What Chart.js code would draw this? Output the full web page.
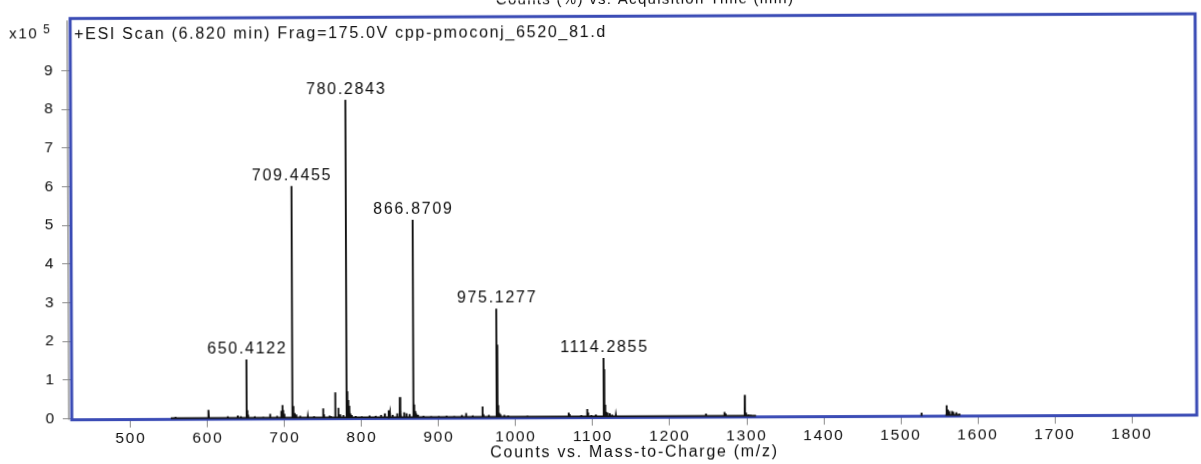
<!DOCTYPE html>
<html>
<head>
<meta charset="utf-8">
<script src="https://cdn.jsdelivr.net/npm/chart.js@4.4.1/dist/chart.umd.min.js"></script>
<style>
  html, body { margin: 0; padding: 0; background: #fff; overflow: hidden; }
  #wrap { width: 1201px; height: 464px; transform: rotate(-0.24deg); transform-origin: 600px 232px; }
  canvas { display: block; }
</style>
</head>
<body>
<div id="wrap"><canvas id="spectrum" width="1201" height="464"></canvas></div>
<script>
// Centroided MS peaks: m/z and abundance (counts x10^5)
const peakMz = [
  558, 600.5, 601.3, 626, 639, 643,
  650.4122, 651.4, 652.4, 661, 672, 681, 690,
  695.5, 697, 698, 699.5,
  709.4455, 710.1, 710.6, 711.5, 712.9, 715, 720, 730, 738,
  749.9, 751, 758, 760, 765.2, 766, 769.6, 772, 776,
  780.2843, 781.3, 782.3, 783.3, 784.3, 785.3, 787, 792, 800,
  810, 818, 825, 830, 835, 836.5, 840, 846, 849.5, 850.5, 855, 858, 862,
  866.8709, 867.4, 868.0, 868.5, 869.5, 870.5, 873, 880, 890, 900, 910, 920, 930,
  935.5, 944, 956.8, 958, 965,
  975.1277, 976.2, 976.8, 977.5, 978.5, 980, 985, 990, 1002, 1015, 1050,
  1068.8, 1070, 1085, 1092.8, 1094, 1098, 1104,
  1114.2855, 1115.2, 1116, 1117, 1119, 1122, 1125, 1130,
  1247, 1271, 1272.5, 1297.5, 1299, 1302, 1305,
  1527, 1559.5, 1561, 1563, 1566.5, 1568, 1572, 1576
];
const peakCounts = [
  0.04, 0.12, 0.21, 0.04, 0.06, 0.04,
  1.51, 0.2, 0.08, 0.04, 0.03, 0.1, 0.05,
  0.18, 0.33, 0.2, 0.1,
  5.99, 0.38, 0.25, 0.3, 0.12, 0.08, 0.05, 0.03, 0.04,
  0.24, 0.08, 0.05, 0.04, 0.65, 0.1, 0.25, 0.08, 0.06,
  8.22, 0.68, 0.45, 0.3, 0.18, 0.1, 0.06, 0.04, 0.03,
  0.05, 0.04, 0.06, 0.1, 0.18, 0.12, 0.06, 0.1, 0.52, 0.15, 0.13, 0.1, 0.08,
  5.11, 0.4, 0.33, 0.25, 0.16, 0.1, 0.06, 0.04, 0.03, 0.03, 0.04, 0.03, 0.05,
  0.1, 0.04, 0.27, 0.07, 0.05,
  2.80, 1.87, 0.3, 0.15, 0.1, 0.07, 0.05, 0.04, 0.02, 0.03, 0.02,
  0.1, 0.06, 0.04, 0.19, 0.1, 0.04, 0.05,
  1.51, 1.22, 0.3, 0.12, 0.1, 0.08, 0.05, 0.03,
  0.06, 0.1, 0.06, 0.54, 0.08, 0.04, 0.03,
  0.06, 0.25, 0.14, 0.1, 0.1, 0.08, 0.07, 0.04
];
// Peaks annotated with their m/z
const labeledMz = [650.4122, 709.4455, 780.2843, 866.8709, 975.1277, 1114.2855];
// m/z ranges where the acquired profile (baseline) is present
const profileRanges = [[552, 1312], [1526, 1528], [1558, 1577]];

const xTicks = [500, 600, 700, 800, 900, 1000, 1100, 1200, 1300, 1400, 1500, 1600, 1700, 1800];
const yTicks = [0, 1, 2, 3, 4, 5, 6, 7, 8, 9];

const scanTitle = '+ESI Scan (6.820 min) Frag=175.0V cpp-pmoconj_6520_81.d';
const topTitle = 'Counts (%) vs. Acquisition Time (min)';
const xTitle = 'Counts vs. Mass-to-Charge (m/z)';

const FAMILY = '"Liberation Sans", Arial, Helvetica, sans-serif';
const INK = '#0d0d0d';
const FRAME = '#3a4bb5';
const AXIS_GREY = '#8a8a8a';
const SPACING = '1.7px';

// Stick spectrum: each peak rises from and returns to the baseline;
// a null point separates the acquired ranges.
const trace = [];
profileRanges.forEach(([lo, hi]) => {
  trace.push({ x: lo, y: 0 });
  peakMz.forEach((m, i) => {
    if (m >= lo && m <= hi) {
      trace.push({ x: m - 0.2, y: 0 }, { x: m, y: peakCounts[i] }, { x: m + 0.2, y: 0 });
    }
  });
  trace.push({ x: hi, y: 0 }, { x: hi + 0.5, y: null });
});

const wideText = {
  id: 'wideText',
  beforeUpdate(chart) { chart.ctx.letterSpacing = SPACING; },
  beforeDraw(chart) { chart.ctx.letterSpacing = SPACING; }
};

const frame = {
  id: 'frame',
  beforeDatasetsDraw(chart) {
    const { ctx, chartArea: a } = chart;
    ctx.save();
    ctx.strokeStyle = AXIS_GREY;
    ctx.lineWidth = 1.3;
    ctx.beginPath();
    ctx.moveTo(a.left - 3, a.top + 2);
    ctx.lineTo(a.left - 3, a.bottom);
    ctx.stroke();
    ctx.strokeStyle = FRAME;
    ctx.lineWidth = 3;
    ctx.strokeRect(a.left, a.top, a.right - a.left, a.bottom - a.top);
    ctx.restore();
  }
};

const annotations = {
  id: 'annotations',
  afterDatasetsDraw(chart) {
    const { ctx } = chart;
    const xs = chart.scales.x, ys = chart.scales.y;
    ctx.save();
    ctx.letterSpacing = SPACING;
    ctx.fillStyle = INK;
    ctx.font = '16px ' + FAMILY;
    ctx.textAlign = 'center';
    ctx.textBaseline = 'middle';
    labeledMz.forEach(m => {
      const h = peakCounts[peakMz.indexOf(m)];
      ctx.fillText(m.toFixed(4), xs.getPixelForValue(m) + 1, ys.getPixelForValue(h) - 10.5);
    });

    // scan description inside the frame
    ctx.textAlign = 'left';
    ctx.fillText(scanTitle, chart.chartArea.left + 4, 33);

    // chromatogram heading, cut by the top edge
    ctx.textAlign = 'center';
    ctx.textBaseline = 'alphabetic';
    ctx.letterSpacing = '1.3px';
    ctx.font = '15px ' + FAMILY;
    ctx.fillText(topTitle, 646, 4);

    // exponent of the abundance axis
    ctx.letterSpacing = SPACING;
    ctx.textAlign = 'left';
    ctx.textBaseline = 'middle';
    ctx.font = '15px ' + FAMILY;
    ctx.fillText('x10', 10, 32);
    ctx.font = '12px ' + FAMILY;
    ctx.fillText('5', 44, 28);
    ctx.restore();
  }
};

new Chart(document.getElementById('spectrum'), {
  type: 'line',
  data: {
    datasets: [{
      data: trace,
      borderColor: '#111',
      borderWidth: 1.9,
      pointRadius: 0,
      tension: 0,
      fill: false,
      spanGaps: false
    }]
  },
  options: {
    responsive: false,
    animation: false,
    events: [],
    layout: { padding: { top: 12, right: 5, left: 0, bottom: 0 } },
    plugins: { legend: { display: false }, tooltip: { enabled: false }, title: { display: false } },
    scales: {
      x: {
        type: 'linear',
        min: 423.4,
        max: 1884.4,
        afterBuildTicks(s) { s.ticks = xTicks.map(v => ({ value: v })); },
        afterFit(s) { s.height = 46.4; },
        border: { display: false },
        grid: { drawOnChartArea: false, drawTicks: true, tickLength: 8, color: AXIS_GREY, lineWidth: 1 },
        ticks: {
          autoSkip: false, maxRotation: 0, padding: 2,
          color: INK, font: { family: FAMILY, size: 15.5 },
          callback: v => String(v)
        },
        title: {
          display: true, text: xTitle, color: INK,
          font: { family: FAMILY, size: 16 },
          padding: { top: 0, bottom: 2 }
        }
      },
      y: {
        type: 'linear',
        min: -0.03,
        max: 10.35,
        afterBuildTicks(s) { s.ticks = yTicks.map(v => ({ value: v })); },
        afterFit(s) { s.width = 71; },
        border: { display: false },
        grid: { drawOnChartArea: false, drawTicks: true, tickLength: 9, color: AXIS_GREY, lineWidth: 1 },
        ticks: {
          padding: 7, color: INK, font: { family: FAMILY, size: 15.5 },
          callback: v => String(v)
        }
      }
    }
  },
  plugins: [wideText, frame, annotations]
});
</script>
</body>
</html>
